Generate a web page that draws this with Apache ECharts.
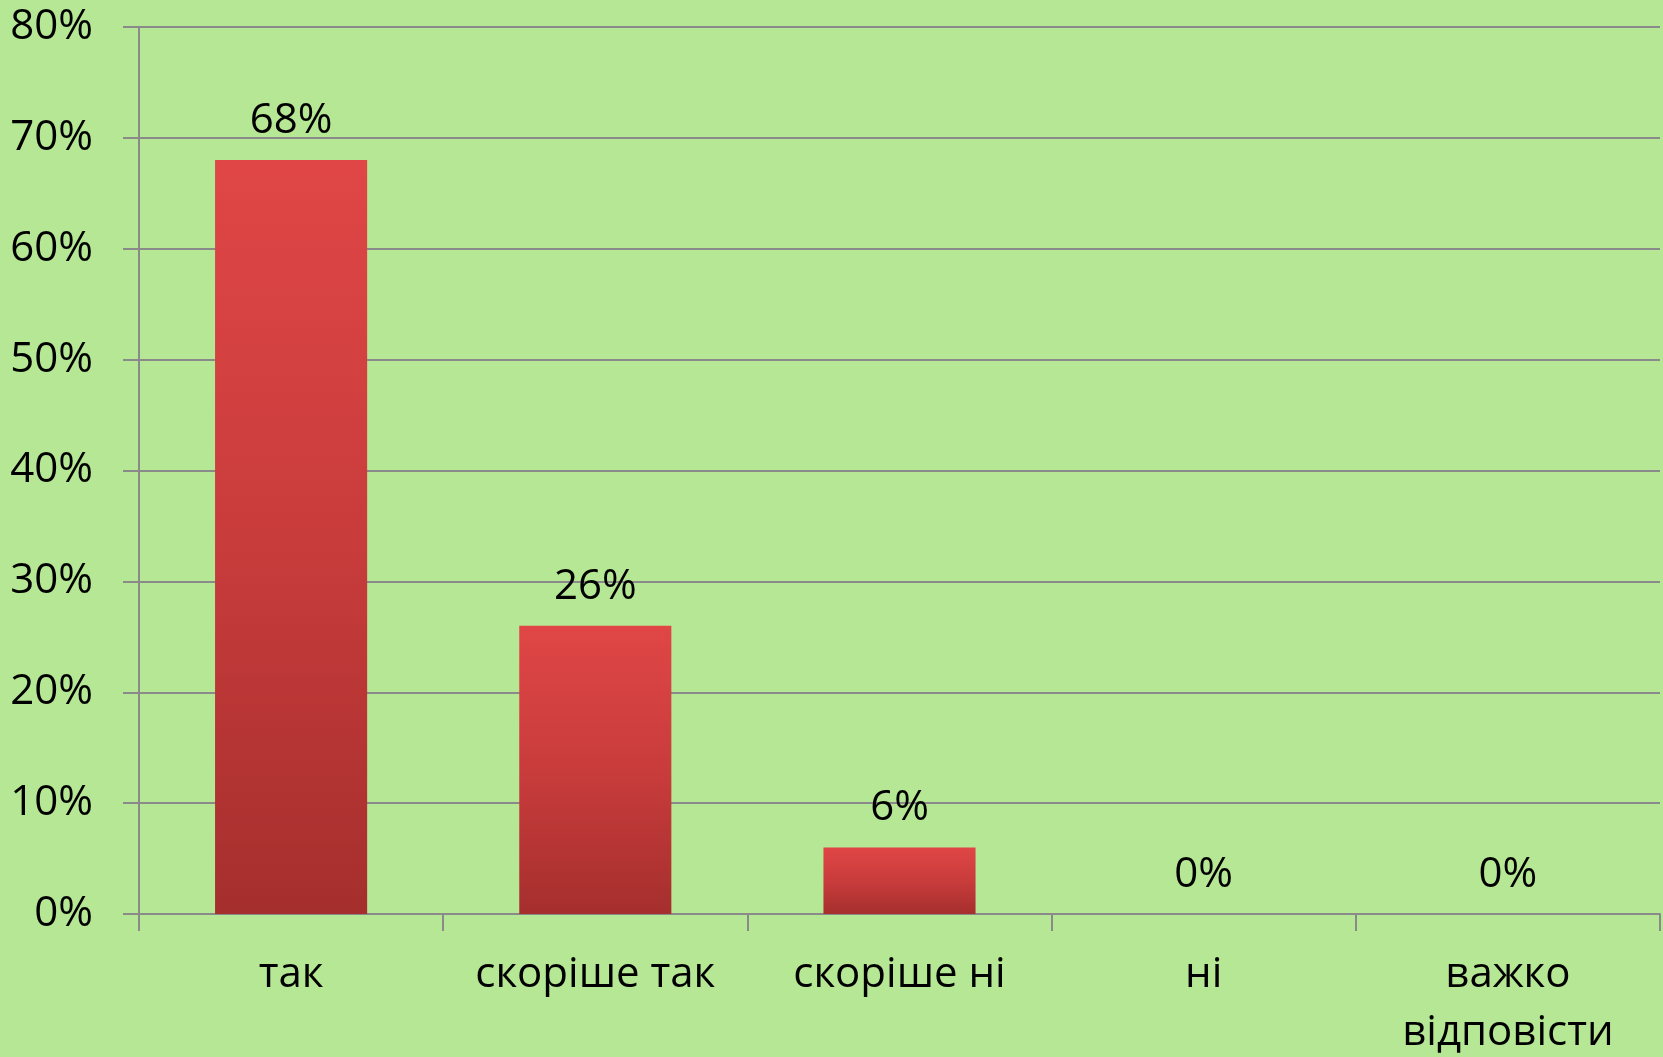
<!DOCTYPE html>
<html>
<head>
<meta charset="utf-8">
<script src="https://cdn.jsdelivr.net/npm/echarts@6/dist/echarts.min.js"></script>
<style>
  html, body { margin: 0; padding: 0; background: #b5e794; }
</style>
</head>
<body>
<div id="main" style="width: 1663px; height: 1057px"></div>
<script>
// категорії відповідей
const categories = ['так', 'скоріше так', 'скоріше ні', 'ні', 'важко\nвідповісти']
// частка відповідей, %
const shares = [68, 26, 6, 0, 0]
// шкала осі Y
const yMin = 0
const yMax = 80
const yStep = 10

const font = "'Open Sans', 'Noto Sans', sans-serif"
const myChart = echarts.init(document.getElementById('main'))

const option = {
  backgroundColor: '#b5e794',
  textStyle: { fontFamily: font },
  grid: {
    left: 139,
    right: 3,
    top: 27,
    bottom: 143,
    containLabel: false,
    outerBoundsMode: 'none'
  },
  xAxis: {
    type: 'category',
    data: categories,
    axisLine: { lineStyle: { color: '#8a8a8a', width: 2 } },
    axisTick: { show: true, length: 17, lineStyle: { color: '#8a8a8a', width: 2 } },
    axisLabel: {
      color: '#000',
      fontSize: 42,
      fontFamily: font,
      margin: 32,
      lineHeight: 58,
      interval: 0
    }
  },
  yAxis: {
    type: 'value',
    min: yMin,
    max: yMax,
    interval: yStep,
    axisLine: { show: true, lineStyle: { color: '#8a8a8a', width: 2 } },
    axisTick: { show: true, length: 16, lineStyle: { color: '#8a8a8a', width: 2 } },
    splitLine: { lineStyle: { color: '#8a8a8a', width: 2 } },
    axisLabel: {
      color: '#000',
      fontSize: 42,
      fontFamily: font,
      margin: 46,
      formatter: '{value}%'
    }
  },
  series: [
    {
      type: 'bar',
      data: shares,
      barWidth: '50%',
      itemStyle: {
        color: new echarts.graphic.LinearGradient(0, 0, 0, 1, [
          { offset: 0, color: '#e04646' },
          { offset: 0.5, color: '#c93c3c' },
          { offset: 1, color: '#a52f2d' }
        ]),
        borderWidth: 0
      },
      label: {
        show: true,
        position: 'top',
        distance: 18,
        color: '#000',
        fontSize: 42,
        fontFamily: font,
        formatter: '{c}%'
      }
    }
  ]
}

myChart.setOption(option)
</script>
</body>
</html>
